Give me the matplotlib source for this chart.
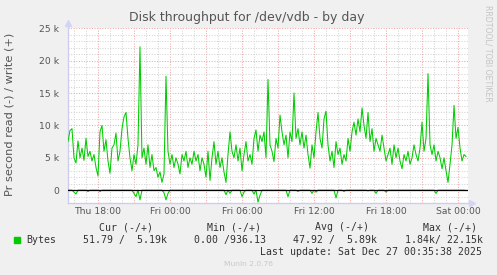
import matplotlib
matplotlib.use('Agg')
import matplotlib.pyplot as plt
from matplotlib.patches import Rectangle
import numpy as np

# 10 minute samples, hours counted from Thu 00:00
start_hour = 15.5
step_hour = 1 / 6

# write (+), in k bytes per second
write_k = [
    7.5, 9.2, 9.5, 5.0, 4.2, 7.6, 5.0, 6.5, 4.6, 8.0,
    5.2, 6.0, 4.5, 5.5, 3.5, 2.2, 9.0, 10.0, 6.0, 7.8,
    4.5, 2.6, 6.5, 7.0, 8.8, 4.5, 6.0, 9.5, 11.3, 12.0,
    8.0, 5.0, 3.0, 5.5, 4.0, 7.0, 22.15, 5.0, 6.5, 4.0,
    7.0, 3.5, 5.5, 3.0, 3.5, 2.0, 2.8, 1.2, 2.5, 17.6,
    6.0, 4.0, 5.5, 3.5, 5.0, 4.0, 2.5, 5.5, 4.5, 6.0,
    3.5, 5.0, 4.0, 6.0, 4.5, 5.5, 3.0, 5.0, 4.0, 2.0,
    6.0, 1.5, 5.0, 7.5, 4.0, 6.0, 3.5, 5.0, 2.8, 1.2,
    5.5, 9.0, 6.0, 5.0, 7.0, 4.5, 6.5, 3.0, 5.5, 7.5,
    4.5, 5.5, 4.0, 8.0, 9.3, 6.0, 8.5, 7.5, 9.0, 5.0,
    17.1, 7.0, 6.0, 4.4, 8.0, 6.5, 11.6, 9.0, 7.0, 8.5,
    5.0, 9.0, 7.5, 15.0, 8.0, 9.5, 7.0, 9.0, 6.5, 8.5,
    5.5, 3.4, 7.0, 5.0, 9.0, 12.0, 8.0, 6.5, 11.0, 12.2,
    7.0, 4.5, 6.0, 3.5, 7.5, 5.5, 6.5, 4.0, 5.5, 4.5,
    8.0, 6.0, 9.0, 10.5, 8.5, 11.0, 9.0, 12.7, 10.0, 8.0,
    12.0, 7.5, 9.5, 6.0, 8.0, 7.0, 6.0, 8.5, 6.5, 4.5,
    5.5, 6.5, 4.0, 7.0, 5.0, 6.5, 4.5, 3.3, 5.5, 4.5,
    6.0, 4.0, 5.0, 7.0, 5.5, 4.5, 6.5, 10.5, 6.0, 8.0,
    18.0, 7.0, 5.5, 7.0, 4.5, 6.0, 5.0, 3.3, 5.0, 3.0,
    1.2, 4.0, 7.0, 13.1, 8.0, 9.7, 6.5, 4.5, 5.5, 5.19,
]

# read (-), drawn below zero
read_k = [
    0, 0, 0, -0.3, -0.6, 0, 0, 0, 0, 0, -0.2, 0, 0, 0, 0, 0, -0.2, 0, 0, 0,
    0, 0, 0, 0, 0, 0, 0, 0, 0, 0, 0, 0, 0, -0.5, -1.0, 0, -1.5, 0, 0, 0,
    0, 0, 0, 0, 0, 0, 0, 0, -0.4, -1.5, -0.5, 0, 0, 0, 0, 0, 0, 0, 0, 0,
    0, 0, 0, 0, 0, 0, 0, 0, 0, 0, 0, 0, 0, 0, 0, 0, 0, 0, 0, -0.7,
    0, -0.5, 0, 0, 0, 0, 0, -1.0, -0.3, 0, 0, 0, 0, -0.6, 0, -1.84, -0.8, 0, 0, 0,
    0, 0, 0, 0, 0, 0, 0, 0, 0, 0, -1.0, 0, 0, 0, 0, -0.2, 0, 0, 0, 0,
    0, 0, -0.5, 0, -0.3, 0, 0, 0, 0, 0, 0, 0, 0, 0, -1.2, 0, 0, 0, -0.2, 0,
    0, 0, 0, 0, 0, 0, 0, 0, 0, 0, -0.1, 0, 0, 0, -0.5, 0, 0, 0, 0, -0.3,
    0, 0, 0, 0, 0, 0, 0, 0, 0, 0, 0, 0, 0, 0, 0, 0, 0, 0, 0, 0,
    0, 0, 0, 0, -0.5, 0, 0, 0, 0, 0, 0, 0, 0, 0, 0, 0, 0, 0, 0, -0.05,
]

x_ticks = [18, 24, 30, 36, 42, 48]
x_labels = ['Thu 18:00', 'Fri 00:00', 'Fri 06:00', 'Fri 12:00', 'Fri 18:00', 'Sat 00:00']
y_ticks = [0, 5, 10, 15, 20, 25]
y_labels = ['0', '5 k', '10 k', '15 k', '20 k', '25 k']

title = 'Disk throughput for /dev/vdb - by day'
ylabel = 'Pr second read (-) / write (+)'
headers = ['Cur (-/+)', 'Min (-/+)', 'Avg (-/+)', 'Max (-/+)']
values = ['51.79 /  5.19k', '0.00 /936.13', '47.92 /  5.89k', '1.84k/ 22.15k']
last_update = 'Last update: Sat Dec 27 00:35:38 2025'

W, H = 497, 275
GREEN = '#00CC00'
TXT = '#555555'

fig = plt.figure(figsize=(W / 100, H / 100), dpi=100, facecolor='#F0F0F0')
ax = fig.add_axes([67.5 / W, 1 - 203.3 / H, 400 / W, 175 / H])
ax.set_facecolor('white')

t = start_hour + np.arange(len(write_k)) * step_hour
ax.plot(t, write_k, color=GREEN, lw=0.75, zorder=3)
ax.plot(t, read_k, color=GREEN, lw=0.75, zorder=3)
ax.axhline(0, color='black', lw=0.9, zorder=4)

ax.set_xlim(15.46, 48.79)
ax.set_ylim(-2.03, 25)

# red grid every 3 h, labels every 6 h, grey grid every hour
major_x = np.arange(18, 49, 3)
ax.set_xticks(major_x)
ax.set_xticklabels([x_labels[x_ticks.index(h)] if h in x_ticks else '' for h in major_x])
ax.set_xticks(np.arange(16, 49, 1), minor=True)
ax.set_yticks(y_ticks)
ax.set_yticklabels(y_labels)
ax.set_yticks(np.arange(-1, 25, 1), minor=True)

ax.set_axisbelow(True)
ax.grid(which='major', color='#F0A8A8', ls=(0, (1, 1.5)), lw=0.75)
ax.grid(which='minor', color='#D4D4D4', ls=(0, (1, 1.5)), lw=0.75)
ax.tick_params(which='both', length=0, labelsize=6.7, colors=TXT)
ax.tick_params(axis='y', pad=5.8)
ax.tick_params(axis='x', pad=3.0)

for s in ax.spines.values():
    s.set_visible(False)
axc = '#CDCDF0'
ax.plot([0, 0], [0, 1.03], transform=ax.transAxes, clip_on=False, color=axc, lw=1)
ax.plot([0, 1.01], [0, 0], transform=ax.transAxes, clip_on=False, color=axc, lw=1)
ax.plot([0], [1.03], marker='^', ms=4.5, color='#D4D4F8', transform=ax.transAxes, clip_on=False)
ax.plot([1.01], [0], marker='>', ms=4.5, color='#D4D4F8', transform=ax.transAxes, clip_on=False)

fig.text(247 / W, 1 - 18 / H, title, ha='center', va='center', fontsize=9, color=TXT)
fig.text(10 / W, 1 - 114 / H, ylabel, ha='center', va='center', rotation=90,
         fontsize=8.2, color=TXT)
fig.text(488 / W, 1 - 53 / H, 'RRDTOOL/ TOBI OETIKER', ha='center', va='center',
         rotation=270, fontsize=5.6, color='#C4C4C4')

# legend block
mono = dict(family='DejaVu Sans Mono', fontsize=7.1, color='#333333', va='center')
for x, s in zip([98.7, 206.7, 315, 422.7], headers):
    fig.text(x / W, 1 - 227.3 / H, s, **mono)
fig.patches.append(Rectangle((14 / W, 1 - 243.3 / H), 6 / W, 6 / H,
                             transform=fig.transFigure, color=GREEN))
fig.text(26.7 / W, 1 - 240 / H, 'Bytes', **mono)
for x, s in zip([82.7, 194, 293.3, 405], values):
    fig.text(x / W, 1 - 240 / H, s, **mono)
fig.text(482.3 / W, 1 - 252 / H, last_update, ha='right', **mono)
fig.text(248 / W, 1 - 264 / H, 'Munin 2.0.76', ha='center', va='center',
         fontsize=5.4, color='#C8C8C8')

fig.savefig('out.png', dpi=100, facecolor=fig.get_facecolor())
